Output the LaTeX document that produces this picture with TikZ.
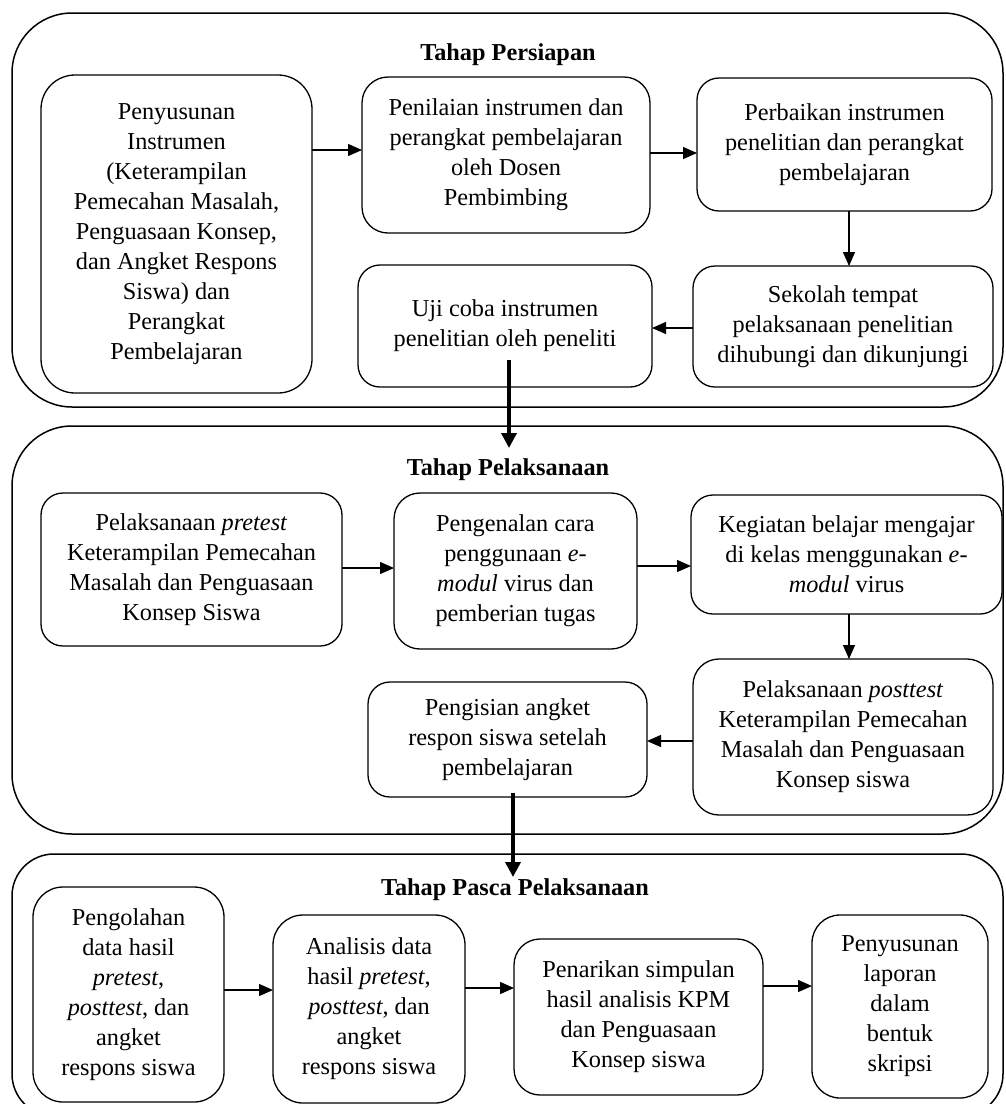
\documentclass[tikz,border=0pt]{standalone}
\usepackage{fontspec}
\setmainfont{Liberation Serif}
\usetikzlibrary{arrows.meta}
\begin{document}
\begin{tikzpicture}[x=1pt,y=-1pt,
  font=\fontsize{24.3}{30}\selectfont,
  stage/.style={draw, line width=1.5pt, rounded corners=#1, inner sep=0pt},
  stage/.default=60pt,
  box/.style={draw, line width=1.3pt, rounded corners=#1, align=center, inner sep=0pt, outer sep=0pt},
  box/.default=22pt,
  ttl/.style={font=\fontsize{24.3}{30}\selectfont\bfseries, inner sep=0pt},
  arr/.style={line width=1.3pt, -{Triangle[length=14pt,width=12pt]}},
  bigarr/.style={line width=3.5pt, -{Triangle[length=15pt,width=15pt]}},
]
\clip (0,0) rectangle (1005,1104);

% stage containers
\node[stage, minimum width=991pt, minimum height=394pt] (S1) at (507.5,210) {};
\node[stage, minimum width=991pt, minimum height=408pt] (S2) at (507.5,630) {};
\node[stage=42pt, minimum width=991pt, minimum height=262pt] (S3) at (507.5,985) {};

\node[ttl] (T1) at (508,55) {Tahap Persiapan};
\node[ttl] (T2) at (508,470) {Tahap Pelaksanaan};
\node[ttl] (T3) at (515,890) {Tahap Pasca Pelaksanaan};

% Persiapan
\node[box=34pt, minimum width=271pt, minimum height=318pt] (A) at (176.5,234)
  {Penyusunan\\Instrumen\\(Keterampilan\\Pemecahan Masalah,\\Penguasaan Konsep,\\dan Angket Respons\\Siswa) dan\\Perangkat\\Pembelajaran};
\node[box=26pt, minimum width=288pt, minimum height=156pt] (B) at (506,155)
  {Penilaian instrumen dan\\perangkat pembelajaran\\oleh Dosen\\Pembimbing};
\node[box, minimum width=295pt, minimum height=133pt] (C) at (844.5,144.5)
  {Perbaikan instrumen\\penelitian dan perangkat\\pembelajaran};
\node[box, minimum width=300pt, minimum height=121pt] (D) at (843,326.5)
  {Sekolah tempat\\pelaksanaan penelitian\\dihubungi dan dikunjungi};
\node[box, minimum width=294pt, minimum height=122pt] (E) at (505,326)
  {Uji coba instrumen\\penelitian oleh peneliti};

% Pelaksanaan
\node[box, minimum width=301pt, minimum height=153pt] (F) at (191.5,569.5)
  {Pelaksanaan \textit{pretest}\\Keterampilan Pemecahan\\Masalah dan Penguasaan\\Konsep Siswa};
\node[box=26pt, minimum width=243pt, minimum height=156pt] (G) at (515.5,571)
  {Pengenalan cara\\penggunaan \textit{e-}\\\textit{modul} virus dan\\pemberian tugas};
\node[box, minimum width=311pt, minimum height=119pt] (H) at (846.5,554.5)
  {Kegiatan belajar mengajar\\di kelas menggunakan \textit{e-}\\\textit{modul} virus};
\node[box=26pt, minimum width=300pt, minimum height=156pt] (I) at (843,737)
  {Pelaksanaan \textit{posttest}\\Keterampilan Pemecahan\\Masalah dan Penguasaan\\Konsep siswa};
\node[box, minimum width=279pt, minimum height=115pt] (J) at (507.5,739.5)
  {Pengisian angket\\respon siswa setelah\\pembelajaran};

% Pasca
\node[box=30pt, minimum width=191pt, minimum height=215pt] (K) at (128.5,994.5)
  {Pengolahan\\data hasil\\\textit{pretest},\\\textit{posttest}, dan\\angket\\respons siswa};
\node[box=30pt, minimum width=192pt, minimum height=188pt] (L) at (369,1009)
  {Analisis data\\hasil \textit{pretest},\\\textit{posttest}, dan\\angket\\respons siswa};
\node[box=26pt, minimum width=249pt, minimum height=156pt] (M) at (638.5,1017)
  {Penarikan simpulan\\hasil analisis KPM\\dan Penguasaan\\Konsep siswa};
\node[box=28pt, minimum width=176pt, minimum height=183pt] (N) at (900,1006.5)
  {Penyusunan\\laporan\\dalam\\bentuk\\skripsi};

% row coordinates
\coordinate (r1) at (0,150);
\coordinate (r1b) at (0,153);
\coordinate (r2) at (0,328);
\coordinate (r3) at (0,568);
\coordinate (r3b) at (0,566);
\coordinate (r4) at (0,741);
\coordinate (r5) at (0,990);
\coordinate (r5b) at (0,988);
\coordinate (r5c) at (0,986);
\coordinate (c1) at (849,0);

% connectors
\draw[arr] (A.east |- r1) -- (B.west |- r1);
\draw[arr] (B.east |- r1b) -- (C.west |- r1b);
\draw[arr] (C.south -| c1) -- (D.north -| c1);
\draw[arr] (D.west |- r2) -- (E.east |- r2);
\draw[arr] (F.east |- r3) -- (G.west |- r3);
\draw[arr] (G.east |- r3b) -- (H.west |- r3b);
\draw[arr] (H.south -| c1) -- (I.north -| c1);
\draw[arr] (I.west |- r4) -- (J.east |- r4);
\draw[arr] (K.east |- r5) -- (L.west |- r5);
\draw[arr] (L.east |- r5b) -- (M.west |- r5b);
\draw[arr] (M.east |- r5c) -- (N.west |- r5c);

% stage links
\path (E.south) ++(4,-27) coordinate (e0);
\coordinate (e1) at (509,448);
\draw[bigarr] (e0) -- (e1);
\path (J.south) ++(5.5,-4) coordinate (j0);
\coordinate (j1) at (513,877);
\draw[bigarr] (j0) -- (j1);
\end{tikzpicture}
\end{document}
